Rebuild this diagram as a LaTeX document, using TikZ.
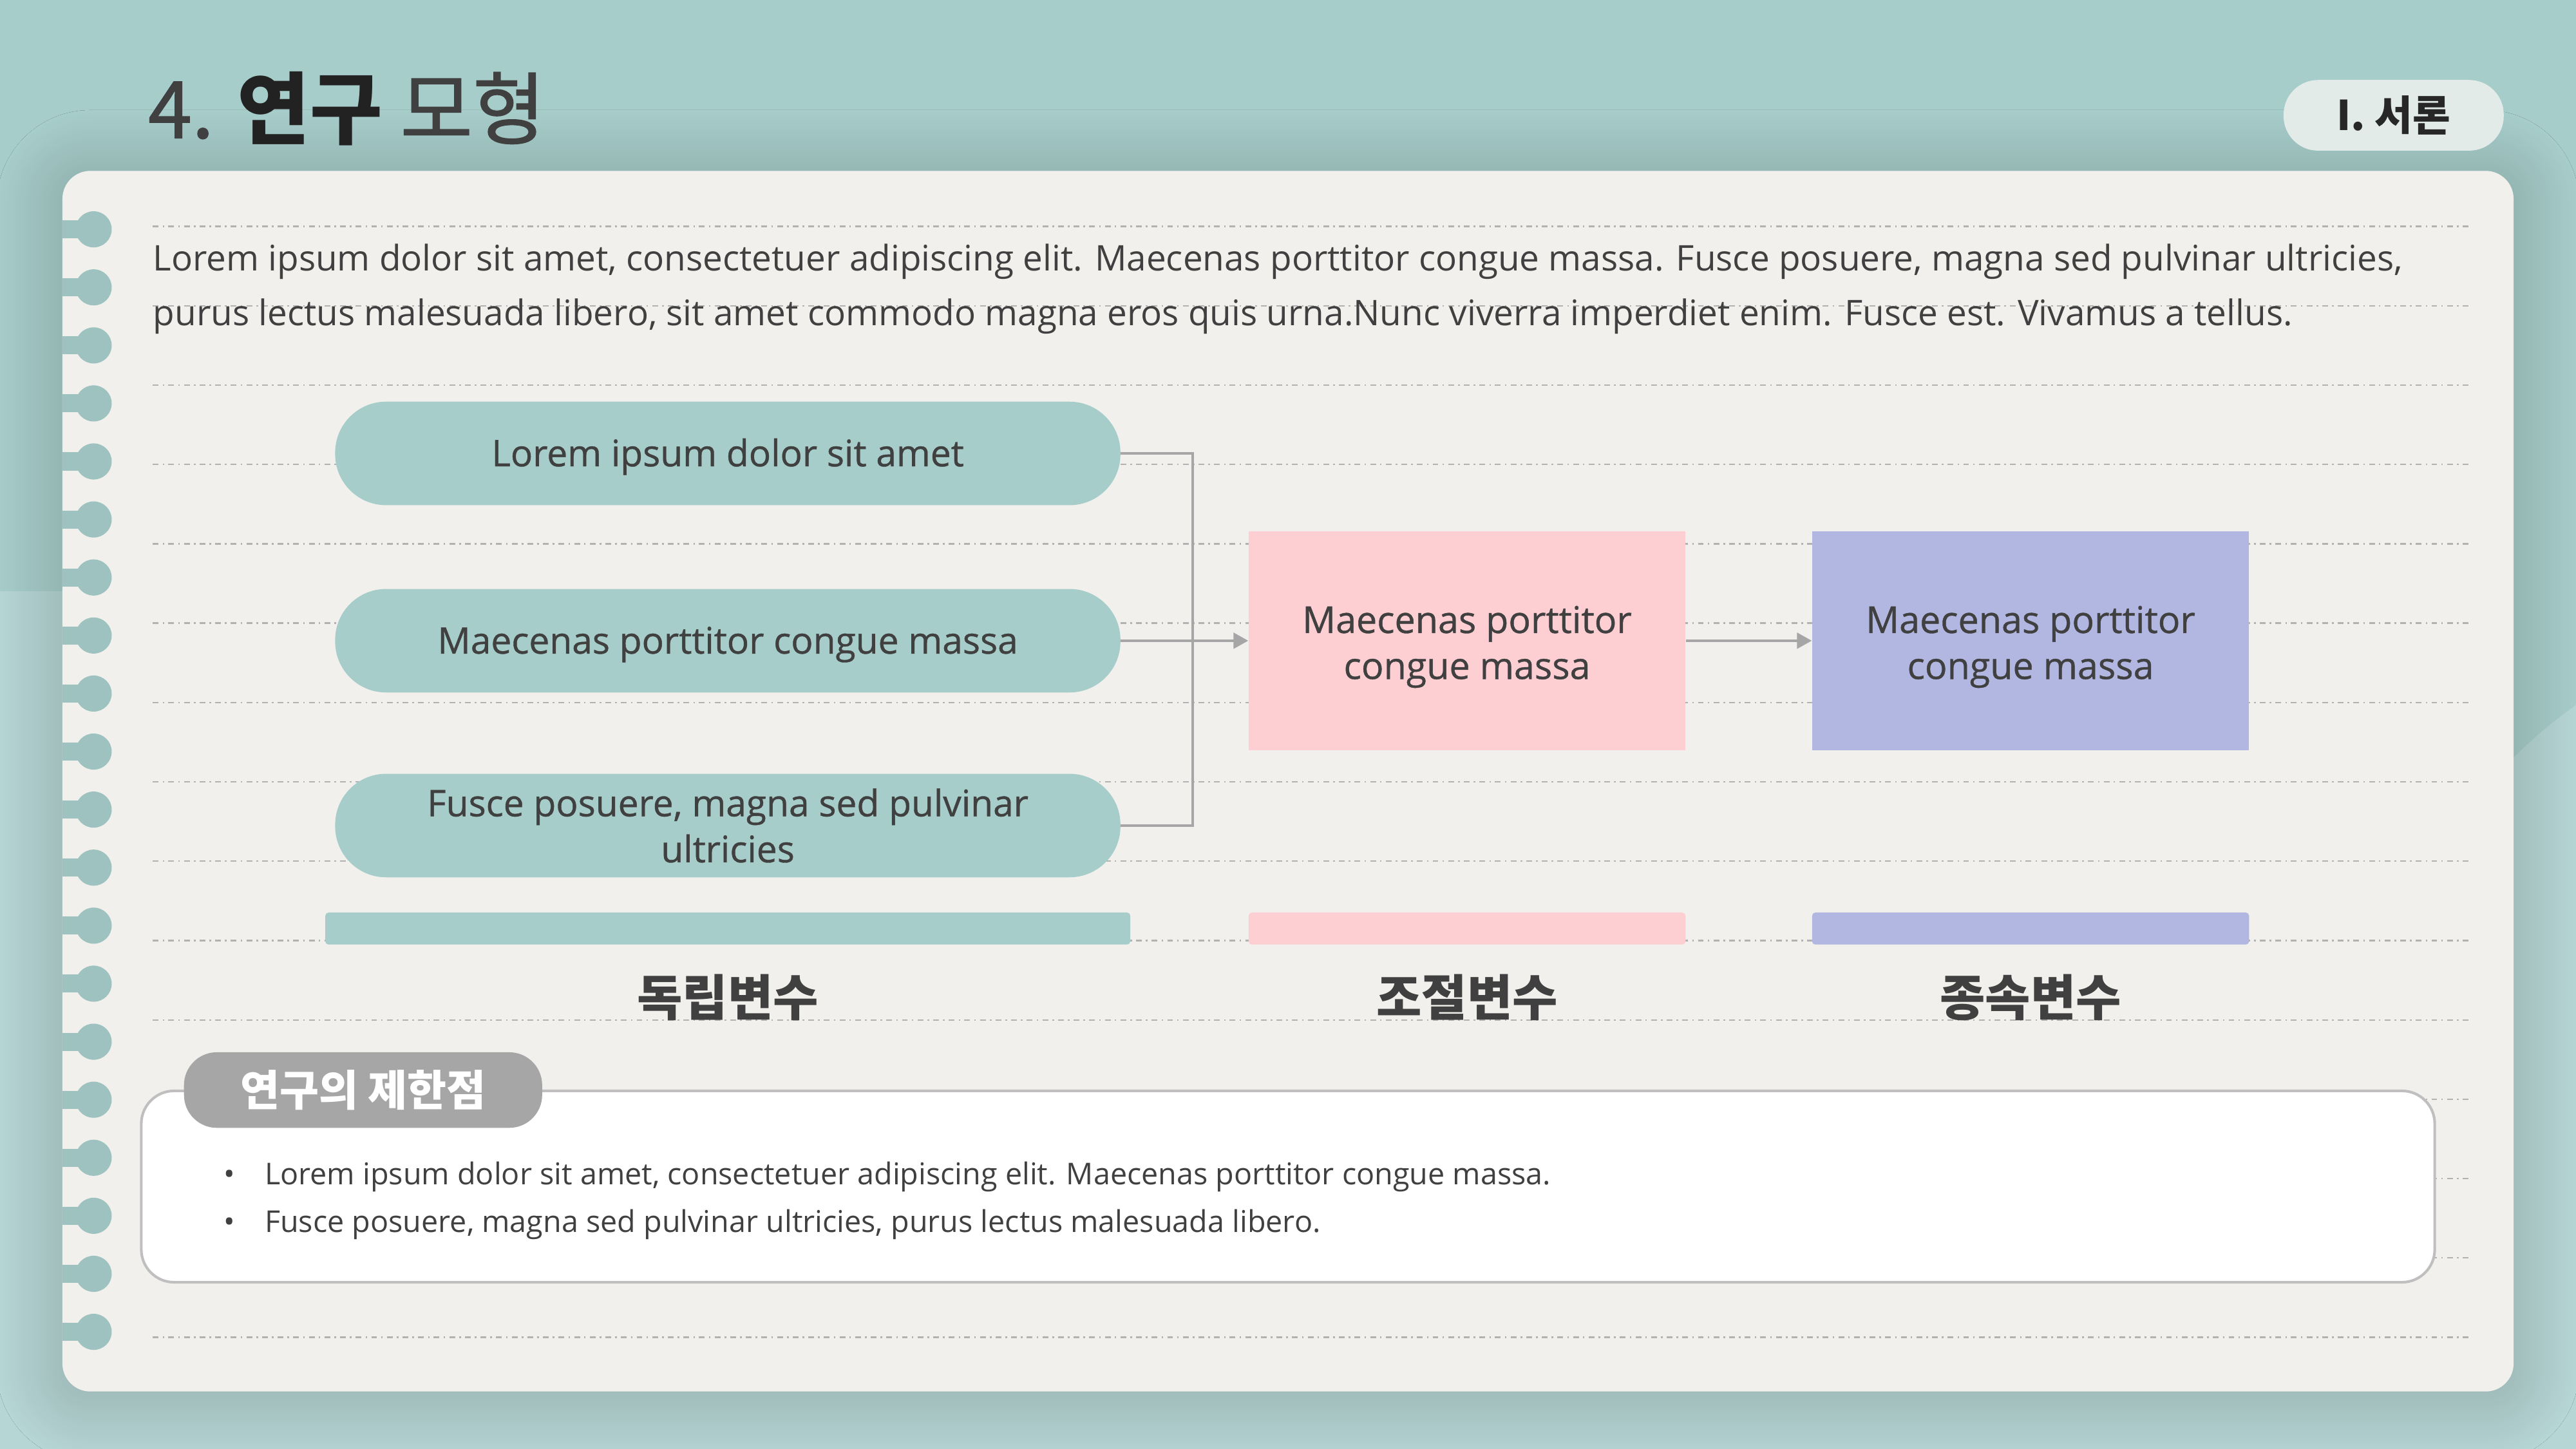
\documentclass[tikz,border=0pt]{standalone}
\usepackage{fontspec}
\setmainfont{Open Sans}
\newfontfamily\medfont{Open Sans}[FakeBold=0.7]
\newfontfamily\kr{Noto Sans CJK KR}
\newfontfamily\krm{Noto Sans CJK KR}[FakeBold=1.2]
\usetikzlibrary{shadows.blur,arrows.meta}
\definecolor{bgteal}{HTML}{A7CDCA}
\definecolor{bglight}{HTML}{B6D6D5}
\definecolor{cardc}{HTML}{F1F0EC}
\definecolor{ringc}{HTML}{9EC2BF}
\definecolor{txt}{HTML}{404040}
\definecolor{pinkc}{HTML}{FDCFD3}
\definecolor{lavc}{HTML}{B2B7E1}
\definecolor{pillc}{HTML}{A7CDCA}
\definecolor{linec}{HTML}{A6A6A6}
\definecolor{dotc}{HTML}{B2B2B2}
\definecolor{tabc}{HTML}{A6A6A6}
\definecolor{tagc}{HTML}{E3EBE8}
\definecolor{boxline}{HTML}{BFBFBF}
\newcommand\myfs[2]{\fontsize{#1}{#2}\selectfont}
\newcommand\topstrut{\rule{0pt}{24pt}}
\tikzset{
  pillnode/.style={fill=pillc, rounded corners=31pt, minimum width=478pt, minimum height=63pt, inner sep=0pt, text=txt, font=\medfont\myfs{22.3}{28}, align=center},
  oneline/.style={text height=21pt, text depth=5.35pt},
  boxnode/.style={minimum width=266pt, minimum height=133pt, inner sep=0pt, text=txt, font=\medfont\myfs{22.5}{28}, align=center},
  barnode/.style={rounded corners=2pt, minimum height=19.5pt, inner sep=0pt},
  lab/.style={font=\kr\bfseries\myfs{30}{34}, text=txt, inner sep=0pt},
  conn/.style={draw=linec, line width=1.6pt},
  arr/.style={conn, -{Triangle[length=9pt,width=9.6pt]}},
  ruled/.style={draw=dotc, line width=0.9pt, dash pattern=on 3.5pt off 2.5pt on 1pt off 2.5pt},
  para/.style={anchor=base west, inner sep=0pt, text=txt, font=\myfs{21.5}{28}},
  bul/.style={anchor=base west, inner sep=0pt, text=txt, font=\myfs{18.3}{24}},
}
\begin{document}
\begin{tikzpicture}[x=1pt,y=-1pt]
\useasboundingbox (0,0) rectangle (1568,882);
% background
\fill[bgteal] (0,0) rectangle (1568,882);
\fill[bglight] (0,360) rectangle (1400,882);
\fill[bglight] (1400,700) rectangle (1568,882);
\fill[bglight] (1744,677) circle[radius=304pt];
% card
\fill[cardc, rounded corners=17pt, blur shadow={shadow xshift=0pt, shadow yshift=-3pt, shadow blur radius=40pt, shadow blur steps=30, shadow opacity=22}] (38,104) rectangle (1530,847);
% rings
\foreach \i in {0,...,19}{
  \pgfmathsetmacro\yy{139.6+35.32*\i}
  \fill[ringc] (38,\yy-5.5) rectangle (52,\yy+5.5);
  \fill[ringc] (57,\yy) circle[radius=11pt];
}
% ruled lines
\foreach \k in {0,...,14}{
  \pgfmathsetmacro\ly{137.8+48.3*\k}
  \draw[ruled] (93,\ly) -- (1504,\ly);
}
% title
\node[anchor=base west, inner sep=0pt, text=txt, font=\krm\myfs{48}{56}] (title) at (90,84) {4. {\kr\bfseries\color[HTML]{222222}연구} 모형};
\node[fill=tagc, rounded corners=21pt, minimum width=134pt, minimum height=43pt, inner sep=0pt, text=txt!60!black, font=\kr\bfseries\myfs{25}{30}] (tag) at (1457,70.2) {I. 서론};
% paragraph
\node[para] (par1) at (93,165) {Lorem ipsum dolor sit amet, consectetuer adipiscing elit. Maecenas porttitor congue massa. Fusce posuere, magna sed pulvinar ultricies,};
\node[para] (par2) at (93,198) {purus lectus malesuada libero, sit amet commodo magna eros quis urna.Nunc viverra imperdiet enim. Fusce est. Vivamus a tellus.};
% pills
\node[pillnode, oneline] (p1) at (443,276) {Lorem ipsum dolor sit amet};
\node[pillnode, oneline] (p2) at (443,390) {Maecenas porttitor congue massa};
\node[pillnode] (p3) at (443,502.5) {Fusce posuere, magna sed pulvinar\\ultricies};
% boxes
\node[boxnode, fill=pinkc] (m) at (893,390) {\topstrut Maecenas porttitor\\congue massa};
\node[boxnode, fill=lavc] (d) at (1236,390) {\topstrut Maecenas porttitor\\congue massa};
% connectors
\coordinate (jx) at (726,390);
\draw[conn] (p1.east) -| (jx) |- (p3.east);
\draw[arr] (p2.east) -- (m.west);
\draw[arr] (m.east) -- (d.west);
% bars
\node[barnode, fill=pillc, minimum width=490pt] (b1) at (443,565.2) {};
\node[barnode, fill=pinkc, minimum width=266pt] (b2) at (893,565.2) {};
\node[barnode, fill=lavc, minimum width=266pt] (b3) at (1236,565.2) {};
% labels
\node[lab] (l1) at (443,607) {독립변수};
\node[lab] (l2) at (893,607) {조절변수};
\node[lab] (l3) at (1236,607) {종속변수};
% bottom box
\draw[draw=boxline, line width=1.6pt, fill=white, rounded corners=20pt] (86,664) rectangle (1482,780.5);
\node[fill=tabc, rounded corners=20pt, minimum width=218pt, minimum height=46pt, inner sep=0pt, text=white, font=\kr\bfseries\myfs{26}{30}] (tab) at (221,663.5) {연구의 제한점};
\node[bul] (u1) at (136,721) {\makebox[25pt][l]{•}Lorem ipsum dolor sit amet, consectetuer adipiscing elit. Maecenas porttitor congue massa.};
\node[bul] (u2) at (136,750) {\makebox[25pt][l]{•}Fusce posuere, magna sed pulvinar ultricies, purus lectus malesuada libero.};
\end{tikzpicture}
\end{document}
